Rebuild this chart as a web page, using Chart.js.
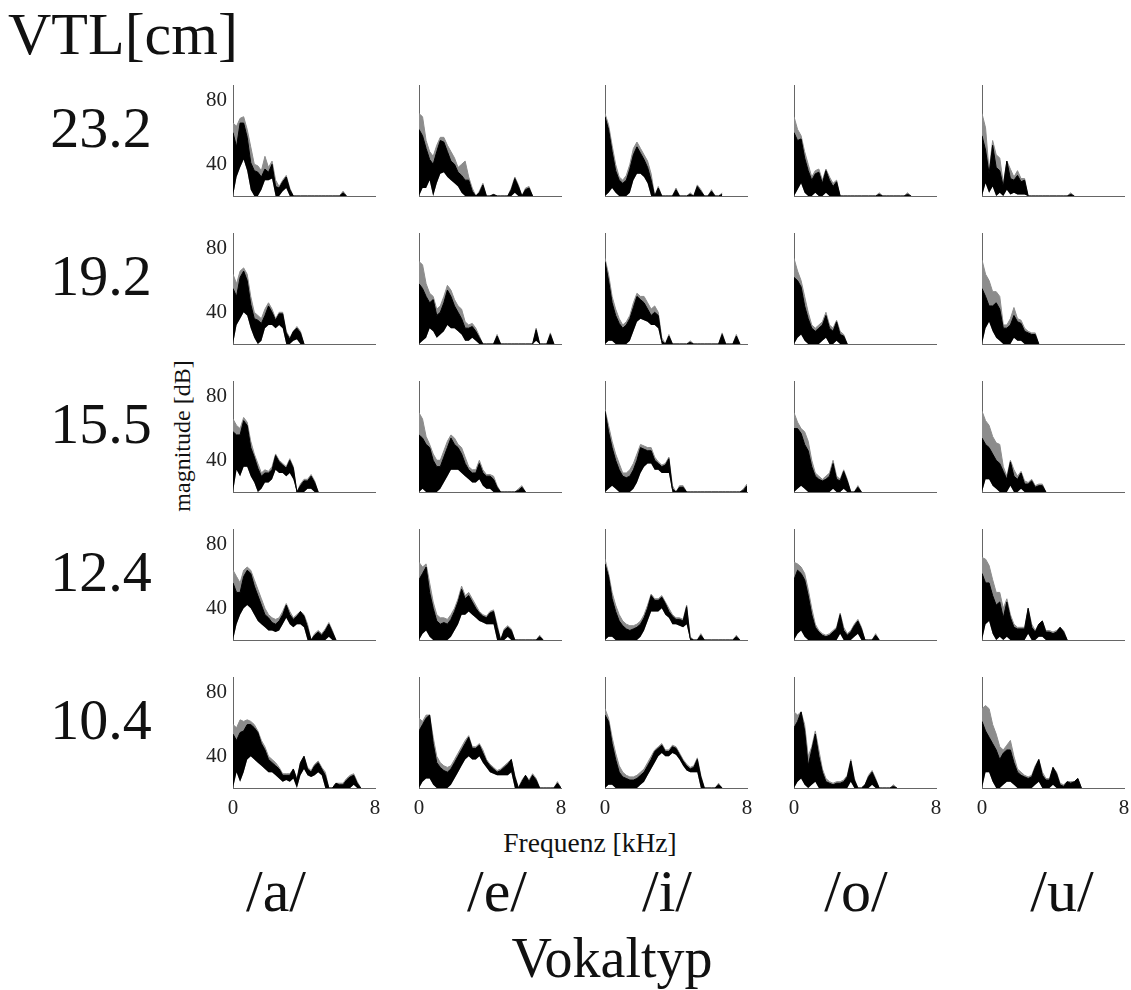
<!DOCTYPE html>
<html><head><meta charset="utf-8">
<script src="https://cdn.jsdelivr.net/npm/chart.js@4"></script>
<style>
html,body{margin:0;padding:0;background:#fff;}
#root{position:relative;width:1131px;height:990px;overflow:hidden;font-family:"Liberation Serif","Times New Roman",serif;color:#111;}
.t{position:absolute;white-space:nowrap;line-height:1;}
canvas{position:absolute;}
</style></head><body><div id="root"></div>
<script>
// ---------- DATA ----------
const FREQ = [0,0.2,0.4,0.6,0.8,1.0,1.2,1.4,1.6,1.8,2.0,2.2,2.4,2.6,2.8,3.0,3.2,3.4,3.6,3.8,4.0,4.2,4.4,4.6,4.8,5.0,5.2,5.4,5.6,5.8,6.0,6.2,6.4,6.6,6.8,7.0,7.2,7.4,7.6,7.8,8.0];
const VOWELS = ['/a/','/e/','/i/','/o/','/u/'];
const VTL = ['23.2','19.2','15.5','12.4','10.4'];
const Y_TICKS = [40,80];
const X_TICKS = [0,8];

// Row VTL 23.2  (G = grey envelope top, T = black band top, B = black band bottom, dB)
const a232G=[66,64,69,70,62,51,40,39,36,45,38,42,30,26,30,33,25,20,20,20,20,20,20,20,20,20,20,20,20,20,20,23,20];
const a232T=[60,51,66,66,57,41,36,35,32,37,35,40,26,25,29,32,24,20,20,20,20,20,20,20,20,20,20,20,20,20,20,22,20];
const a232B=[20,32,38,43,36,24,20,20,24,30,30,31,20,20,23,25,20,20,20,20,20,20,20,20,20,20,20,20,20,20,20,20,20];
const e232G=[72,70,55,48,45,52,57,57,52,48,44,38,40,42,32,25,20,23,28,20,20,21,20,20,20,20,25,32,27,20,25,26,20];
const e232T=[62,58,50,43,40,48,55,54,48,42,40,35,33,30,30,23,20,22,27,20,20,21,20,20,20,20,24,31,26,20,24,25,20];
const e232B=[20,25,25,30,20,28,34,35,32,30,28,26,22,20,20,20,20,20,20,20,20,20,20,20,20,20,20,22,20,20,20,20,20];
const i232G=[72,65,52,40,32,30,33,40,50,54,50,46,42,34,20,26,20,20,20,20,25,20,20,20,22,20,27,24,20,20,24,20,20,22];
const i232T=[70,62,48,36,30,28,30,37,46,51,47,43,38,30,20,25,20,20,20,20,24,20,20,20,21,20,26,23,20,20,23,20,20,21];
const i232B=[20,22,25,22,20,20,20,22,30,34,34,32,28,20,20,20,20,20,20,20,20,20,20,20,20,20,20,20,20,20,20,20,20,20];
const o232G=[70,62,58,48,40,32,36,37,30,37,32,28,30,20,20,20,20,20,20,20,20,20,20,20,22,20,20,20,20,20,20,20,22,20];
const o232T=[60,55,56,44,36,30,34,35,28,36,30,26,29,20,20,20,20,20,20,20,20,20,20,20,21,20,20,20,20,20,20,20,21,20];
const o232B=[20,24,28,22,20,20,22,20,20,22,20,20,20,20,20,20,20,20,20,20,20,20,20,20,20,20,20,20,20,20,20,20,20,20];
const u232G=[72,63,36,55,46,44,28,42,37,32,36,31,31,20,20,20,20,20,20,20,20,20,20,20,20,22,20];
const u232T=[58,49,34,52,38,36,26,42,31,30,33,29,30,20,20,20,20,20,20,20,20,20,20,20,20,21,20];
const u232B=[20,28,22,26,20,22,20,24,21,22,21,21,21,20,20,20,20,20,20,20,20,20,20,20,20,20,20];

// Row VTL 19.2
const a192G=[64,58,66,68,64,50,40,38,36,42,46,42,36,40,40,28,24,28,31,28,20];
const a192T=[55,50,62,66,60,45,36,35,33,38,44,40,35,39,39,27,23,28,30,27,20];
const a192B=[20,32,36,40,38,30,24,20,22,30,32,32,30,32,30,20,20,22,23,20,20];
const e192G=[72,70,58,52,50,42,44,50,57,54,48,44,42,34,32,33,30,25,20,20,20,20,26,20,20,20,20,20,20,20,20,20,20,30,20,20,20,27,20];
const e192T=[58,55,50,46,48,38,40,46,54,50,44,40,36,30,30,31,28,24,20,20,20,20,25,20,20,20,20,20,20,20,20,20,20,29,20,20,20,26,20];
const e192B=[20,22,24,30,28,24,26,28,32,30,30,28,26,22,22,24,22,20,20,20,20,20,20,20,20,20,20,20,20,20,20,20,20,22,20,20,20,20,20];
const i192G=[74,64,50,42,36,32,34,38,46,52,50,50,46,42,44,40,24,20,26,20,20,20,20,20,22,20,20,20,20,20,20,20,20,27,20,20,20,26,20];
const i192T=[72,60,46,38,33,30,32,36,43,50,48,46,42,38,40,38,22,20,25,20,20,20,20,20,21,20,20,20,20,20,20,20,20,26,20,20,20,25,20];
const i192B=[20,22,22,20,20,20,20,22,28,34,36,35,34,32,32,30,20,20,20,20,20,20,20,20,20,20,20,20,20,20,20,20,20,20,20,20,20,20,20];
const o192G=[74,66,60,50,40,32,30,32,34,40,32,30,35,28,26,20];
const o192T=[62,60,56,44,36,30,28,30,32,38,30,28,34,26,25,20];
const o192B=[20,24,26,22,20,20,20,20,22,24,20,20,22,20,20,20];
const u192G=[73,64,60,53,53,50,32,32,36,43,36,35,30,28,27,27,20];
const u192T=[55,50,44,44,46,42,30,30,32,38,34,33,28,27,26,26,20];
const u192B=[20,30,34,28,24,22,20,20,20,24,22,22,20,20,20,20,20];

// Row VTL 15.5
const a155G=[66,62,60,67,64,52,44,38,32,34,33,36,44,40,38,36,41,36,20,25,28,28,31,27,20];
const a155T=[58,56,56,65,62,48,42,35,30,32,32,34,43,39,37,35,40,35,20,24,27,27,30,26,20];
const a155B=[20,34,30,36,36,30,26,20,22,26,26,28,34,32,32,30,32,28,20,20,20,22,22,20,20];
const e155G=[70,66,55,50,44,40,40,46,52,56,54,50,48,42,36,34,34,40,34,31,31,30,24,20,20,20,20,20,22,24,20];
const e155T=[56,54,50,48,40,36,36,42,48,54,50,48,44,38,34,32,32,38,32,30,30,28,23,20,20,20,20,20,21,23,20];
const e155B=[20,22,20,20,20,20,22,26,30,34,34,34,32,30,28,26,26,28,24,22,22,20,20,20,20,20,20,20,20,20,20];
const i155G=[72,62,52,44,38,32,32,34,38,44,50,49,48,48,42,39,37,38,42,24,20,24,24,20,20,20,20,20,20,20,20,20,20,20,20,20,20,20,20,22,25];
const i155T=[71,58,48,40,34,30,29,30,34,40,48,47,46,46,40,38,36,37,41,22,20,23,23,20,20,20,20,20,20,20,20,20,20,20,20,20,20,20,20,21,24];
const i155B=[20,22,24,22,20,20,20,20,22,26,32,36,38,38,34,34,32,32,32,20,20,20,20,20,20,20,20,20,20,20,20,20,20,20,20,20,20,20,20,20,20];
const o155G=[70,64,60,58,52,40,32,30,28,30,32,40,30,28,34,28,20,20,24,20];
const o155T=[60,60,57,50,46,36,30,28,27,28,30,38,28,27,33,27,20,20,23,20];
const o155B=[20,22,24,22,20,20,20,20,20,20,20,22,20,20,22,20,20,20,20,20];
const u155G=[71,65,62,55,51,50,36,30,40,34,30,33,27,26,28,24,25,25,20];
const u155T=[54,50,48,44,40,38,33,28,39,30,28,32,25,25,27,23,24,24,20];
const u155B=[20,28,28,24,22,20,20,20,24,20,20,22,20,20,20,20,20,20,20];

// Row VTL 12.4
const a124G=[64,60,56,64,66,64,58,52,46,40,36,34,33,34,38,43,38,34,36,38,36,30,20,24,26,24,27,31,26,20];
const a124T=[56,50,50,60,64,62,54,48,42,36,34,31,30,32,36,42,36,33,35,38,35,28,20,23,25,23,26,30,25,20];
const a124B=[20,30,36,40,42,40,36,32,30,28,26,26,25,26,30,34,30,28,30,30,28,20,20,20,20,20,20,22,20,20];
const e124G=[69,66,68,56,44,36,34,34,33,36,40,46,54,48,50,46,42,38,36,35,38,39,30,20,27,29,27,20,20,20,20,20,20,20,23,20];
const e124T=[58,62,66,50,40,32,30,31,30,33,38,44,52,46,48,44,40,37,35,34,37,38,28,20,26,28,26,20,20,20,20,20,20,20,22,20];
const e124B=[20,24,26,22,20,20,20,20,20,22,26,30,36,36,38,36,34,32,31,30,30,30,20,20,20,22,20,20,20,20,20,20,20,20,20,20];
const i124G=[71,62,50,42,36,32,30,29,29,30,32,36,42,49,46,46,48,44,40,36,34,34,33,42,22,20,20,24,20,20,20,20,20,20,20,20,20,23,20];
const i124T=[68,60,46,38,32,29,27,26,27,28,30,34,40,48,45,45,47,43,38,35,33,33,32,41,21,20,20,23,20,20,20,20,20,20,20,20,20,22,20];
const i124B=[20,22,22,20,20,20,20,20,20,20,22,26,32,38,38,38,40,36,34,30,30,29,28,30,20,20,20,20,20,20,20,20,20,20,20,20,20,20,20];
const o124G=[69,68,66,62,52,40,30,26,24,23,24,26,28,37,28,24,26,30,33,28,20,20,20,24,20];
const o124T=[58,64,62,58,48,36,28,25,23,22,23,25,27,36,26,23,25,29,32,27,20,20,20,23,20];
const o124B=[20,24,26,22,20,20,20,20,20,20,20,20,20,24,20,20,20,22,24,20,20,20,20,20,20];
const u124G=[72,71,67,58,50,50,40,46,36,30,28,28,28,40,30,26,30,32,26,26,25,26,28,26,20];
const u124T=[62,56,56,48,42,44,34,44,34,28,27,27,27,40,28,25,30,32,25,25,24,25,28,25,20];
const u124B=[20,30,32,24,20,22,20,22,20,20,20,20,20,24,20,20,22,22,20,20,20,20,20,20,20];

// Row VTL 10.4
const a104G=[60,58,63,62,63,62,60,56,50,46,40,38,36,33,29,29,29,32,26,36,40,33,31,35,37,33,30,20,20,23,23,23,26,28,29,24,20];
const a104T=[54,50,55,56,60,60,58,55,48,44,38,36,34,32,28,28,28,32,25,36,40,32,30,34,36,32,28,20,20,23,22,22,25,27,28,23,20];
const a104B=[20,30,24,30,38,40,38,36,34,32,30,30,28,26,24,25,24,26,20,28,32,28,27,28,30,28,20,20,20,20,20,20,20,20,22,20,20];
const e104G=[64,62,66,66,52,40,36,34,33,34,38,42,46,50,53,46,46,48,44,38,35,33,31,32,34,36,38,28,20,25,28,25,29,26,20,20,20,20,20,24,20];
const e104T=[56,60,64,66,48,36,33,31,30,32,36,40,44,48,52,45,45,47,42,37,34,32,30,31,33,35,38,27,20,24,28,24,28,25,20,20,20,20,20,23,20];
const e104B=[20,24,26,26,22,20,20,20,20,22,26,30,34,38,40,38,38,40,36,33,30,29,28,28,28,28,30,20,20,20,20,20,20,20,20,20,20,20,20,20,20];
const i104G=[70,64,52,42,34,30,28,27,27,28,30,32,36,40,44,46,48,44,44,47,46,42,38,35,33,34,39,28,20,20,20,20,23,20];
const i104T=[66,62,48,38,30,27,26,25,25,26,28,30,34,38,43,45,47,43,43,46,45,41,37,34,32,33,38,27,20,20,20,20,22,20];
const i104B=[20,22,22,20,20,20,20,20,20,20,22,24,28,32,36,40,42,40,40,42,41,38,34,31,30,30,30,20,20,20,20,20,20,20];
const o104G=[68,66,68,60,40,46,56,44,32,26,24,23,24,24,25,28,38,26,20,20,22,28,31,26,20,20,20,20,22,20];
const o104T=[58,62,68,56,34,44,54,40,30,24,23,22,23,23,24,27,37,25,20,20,22,27,30,25,20,20,20,20,21,20];
const o104B=[20,24,26,22,20,22,24,20,20,20,20,20,20,20,20,20,24,20,20,20,20,20,22,20,20,20,20,20,20,20];
const u104G=[70,72,70,60,54,46,44,47,50,40,32,30,28,27,28,34,38,30,26,26,33,30,23,22,24,24,24,26,20];
const u104T=[62,56,52,48,44,38,42,44,44,36,30,28,27,26,27,33,38,28,25,25,33,29,22,21,24,23,24,26,20];
const u104B=[20,30,30,24,20,20,22,24,24,22,20,20,20,20,20,22,24,20,20,20,22,20,20,20,20,20,20,20,20];

// panel table (row-major: VTL rows x vowel columns)
const PANELS = [
  [[a232G,a232T,a232B],[e232G,e232T,e232B],[i232G,i232T,i232B],[o232G,o232T,o232B],[u232G,u232T,u232B]],
  [[a192G,a192T,a192B],[e192G,e192T,e192B],[i192G,i192T,i192B],[o192G,o192T,o192B],[u192G,u192T,u192B]],
  [[a155G,a155T,a155B],[e155G,e155T,e155B],[i155G,i155T,i155B],[o155G,o155T,o155B],[u155G,u155T,u155B]],
  [[a124G,a124T,a124B],[e124G,e124T,e124B],[i124G,i124T,i124B],[o124G,o124T,o124B],[u124G,u124T,u124B]],
  [[a104G,a104T,a104B],[e104G,e104T,e104B],[i104G,i104T,i104B],[o104G,o104T,o104B],[u104G,u104T,u104B]]
];

// ---------- LAYOUT ----------
const root = document.getElementById('root');
const COL_X = [233,419,605,794,982];   // left edge of each plot area
const ROW_Y = [85,233,381,529,677];    // top edge of each plot area
const PW = 142, PH = 111;
const YW = 45, PR = 10, PT = 8, XH = 40;
const GREY = '#8c8c8c', AXIS = '#666666';
const FONT = '"Liberation Serif","Times New Roman",serif';

function addText(str, x, baseline, size, align) {
  const d = document.createElement('div');
  d.className = 't';
  d.textContent = str;
  d.style.fontSize = size + 'px';
  d.style.top = (baseline - 0.8375 * size) + 'px';
  if (align === 'center') {
    d.style.left = (x - 300) + 'px'; d.style.width = '600px'; d.style.textAlign = 'center';
  } else {
    d.style.left = x + 'px';
  }
  root.appendChild(d);
  return d;
}

addText('VTL[cm]', 8, 54, 60, 'left');
VTL.forEach((v, r) => addText(v, 101, 148 + r * 148, 58, 'center'));
VOWELS.forEach((v, c) => addText(v, [276,497,667,856,1062][c], 911, 60, 'center'));
addText('Frequenz [kHz]', 590, 852, 27.5, 'center');
addText('Vokaltyp', 612, 977, 56, 'center');
(function(){
  const d = document.createElement('div');
  d.className = 't';
  d.textContent = 'magnitude [dB]';
  d.style.fontSize = '24px';
  d.style.width = '240px'; d.style.height = '24px'; d.style.textAlign = 'center';
  d.style.left = (182 - 120) + 'px'; d.style.top = (436 - 12) + 'px';
  d.style.transform = 'rotate(-90deg)';
  root.appendChild(d);
})();

function pts(arr) { return arr.map((v, i) => ({x: FREQ[i], y: v})); }

function makePanel(r, c) {
  const [G, T, B] = PANELS[r][c];
  const cv = document.createElement('canvas');
  const W = YW + PW + PR, H = PT + PH + XH;
  cv.width = W; cv.height = H;
  cv.style.width = W + 'px'; cv.style.height = H + 'px';
  cv.style.left = (COL_X[c] - YW) + 'px';
  cv.style.top = (ROW_Y[r] - PT) + 'px';
  root.appendChild(cv);
  new Chart(cv, {
    type: 'line',
    data: {
      datasets: [
        {data: pts(T), borderColor: '#000', borderWidth: 1, backgroundColor: '#000', fill: 1, pointRadius: 0, tension: 0},
        {data: pts(B), borderColor: 'rgba(0,0,0,0)', borderWidth: 1, backgroundColor: '#000', fill: false, pointRadius: 0, tension: 0},
        {data: pts(G), borderColor: GREY, borderWidth: 1, backgroundColor: GREY, fill: 1, pointRadius: 0, tension: 0}
      ]
    },
    options: {
      responsive: false, animation: false, events: [],
      layout: {padding: {top: PT, right: PR, left: 0, bottom: 0}},
      plugins: {legend: {display: false}, tooltip: {enabled: false}},
      scales: {
        x: {
          type: 'linear', min: 0, max: 8,
          grid: {display: false, drawTicks: false},
          border: {display: true, color: AXIS, width: 1},
          afterBuildTicks: s => { s.ticks = X_TICKS.map(v => ({value: v})); },
          afterFit: s => { s.height = XH; s.paddingLeft = 0; s.paddingRight = 0; },
          ticks: {display: r === 4, padding: 8, autoSkip: false, maxRotation: 0, color: '#222', font: {family: FONT, size: 21}}
        },
        y: {
          type: 'linear', min: 20, max: 90,
          grid: {display: false, drawTicks: false},
          border: {display: true, color: AXIS, width: 1},
          afterBuildTicks: s => { s.ticks = Y_TICKS.map(v => ({value: v})); },
          afterFit: s => { s.width = YW; s.paddingTop = 0; s.paddingBottom = 0; },
          ticks: {display: c === 0, padding: 6, autoSkip: false, color: '#222', font: {family: FONT, size: 21}}
        }
      }
    }
  });
}

for (let r = 0; r < 5; r++) for (let c = 0; c < 5; c++) makePanel(r, c);
</script>
</body></html>
